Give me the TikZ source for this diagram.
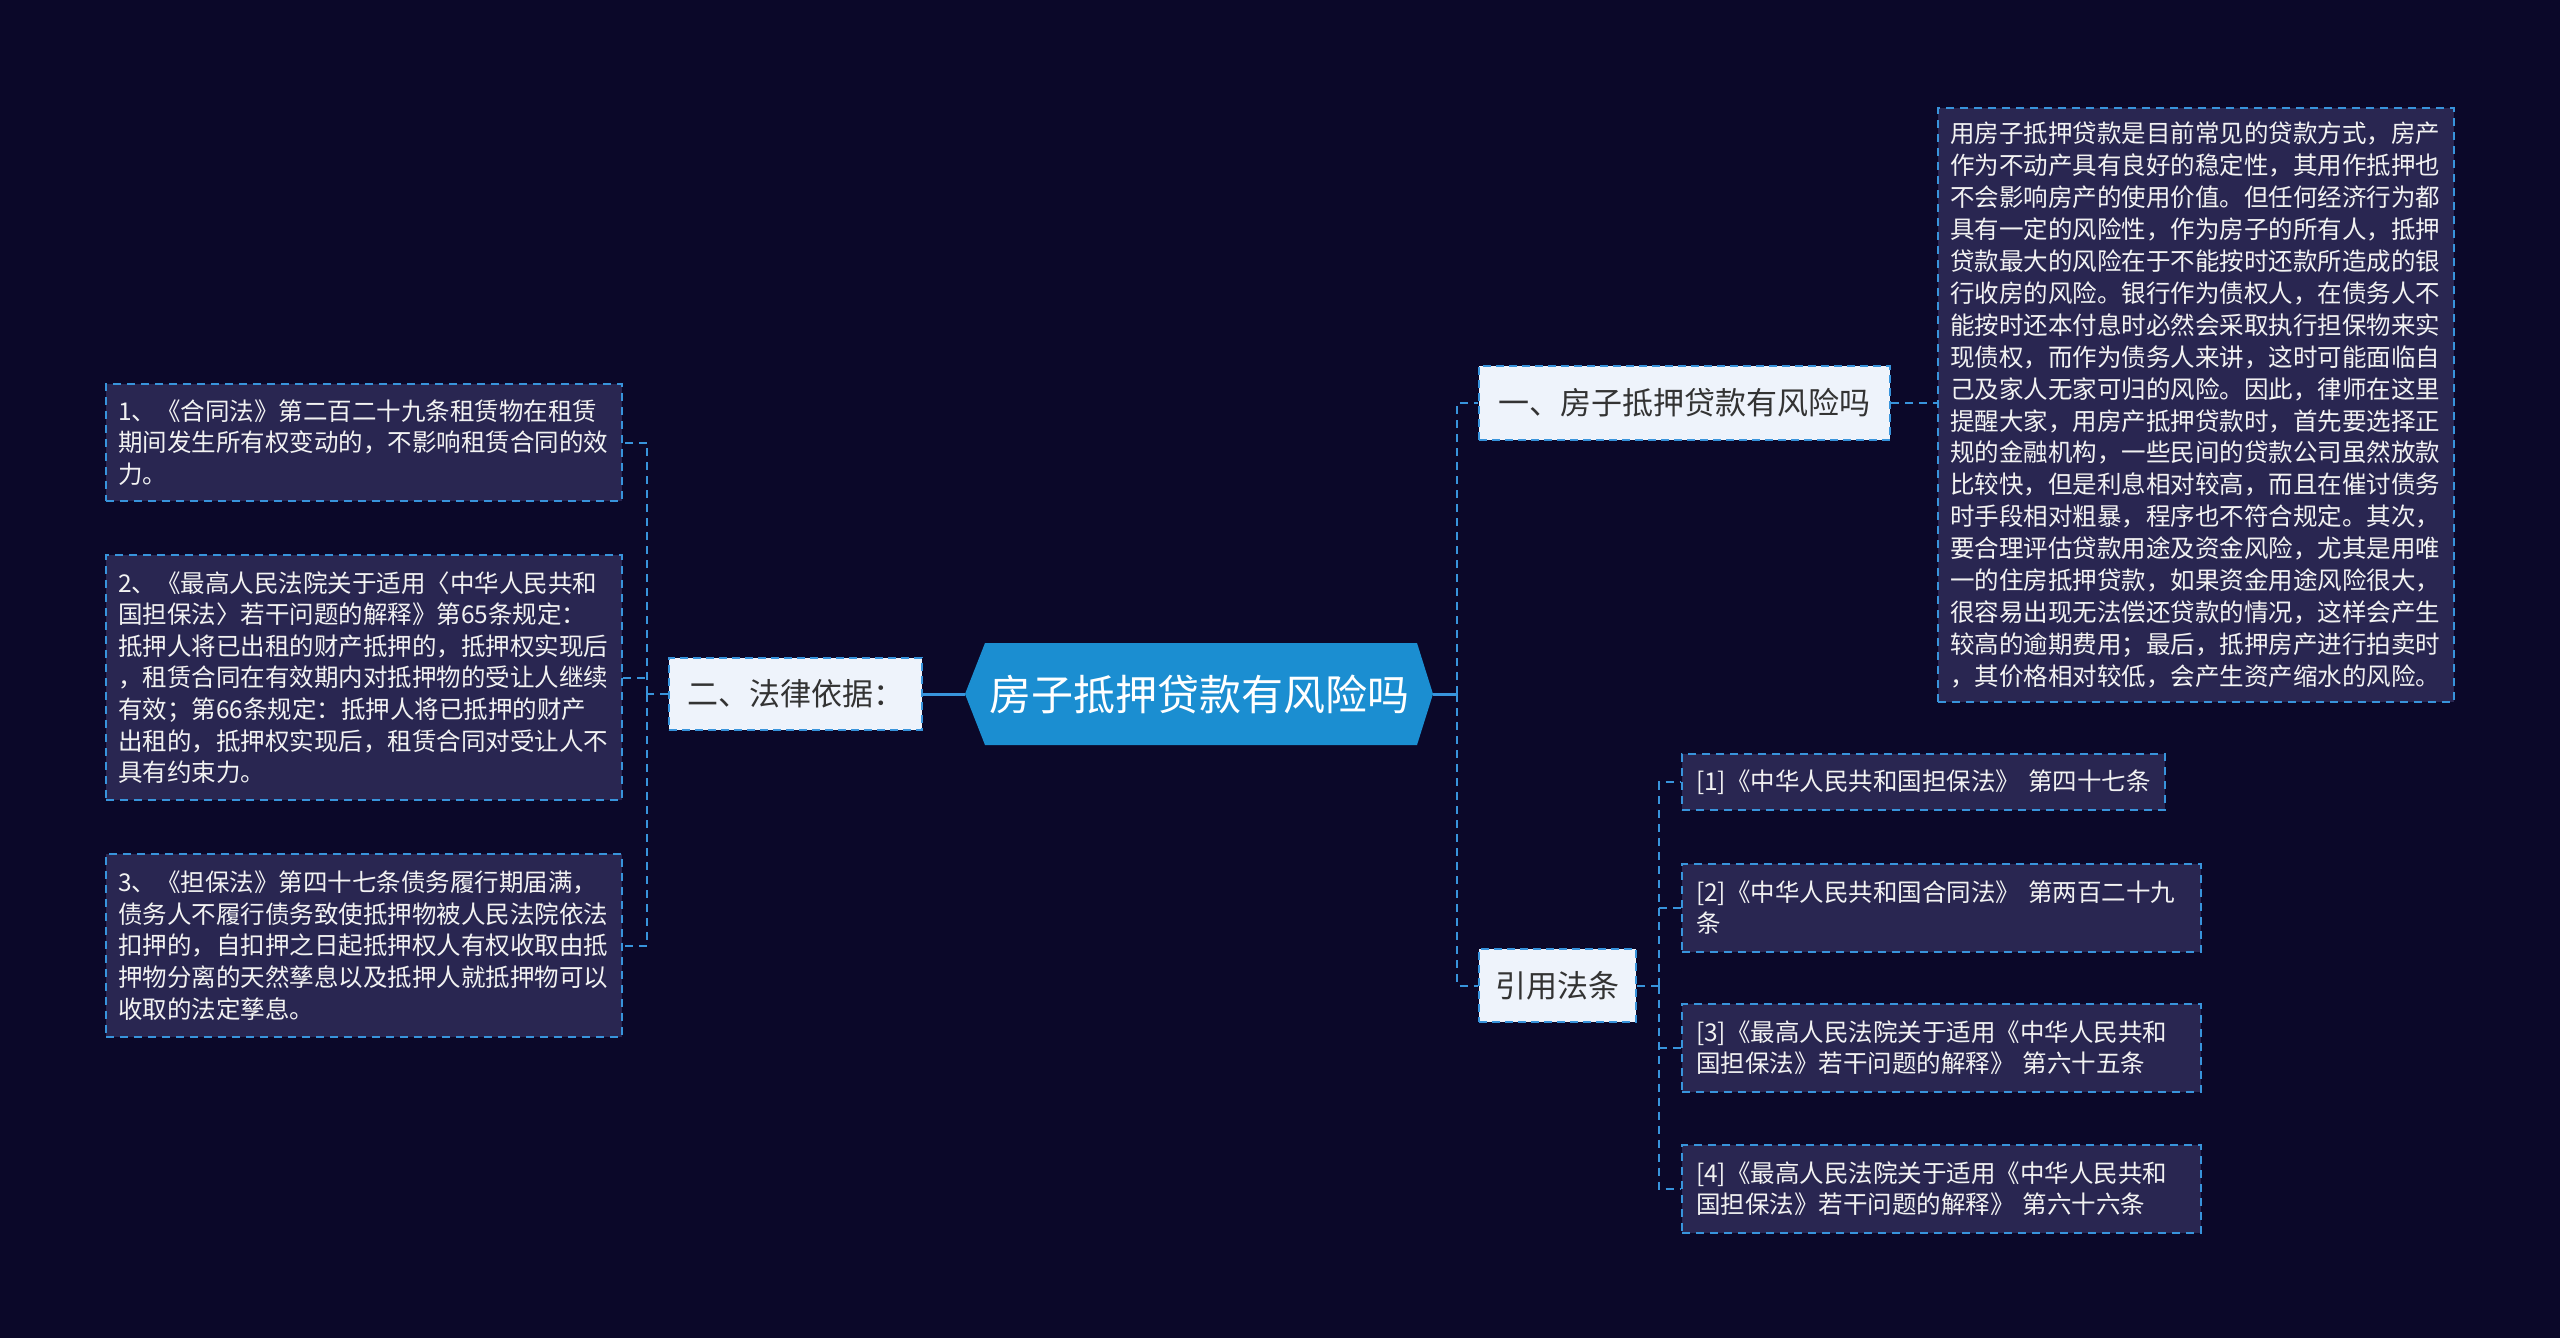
\documentclass[tikz,border=0pt]{standalone}
\usepackage{fontspec}
\newfontfamily\cjk{Noto Sans CJK SC}
\definecolor{bg}{HTML}{0B0829}
\definecolor{linec}{HTML}{3894DC}
\definecolor{rootfill}{HTML}{1B8ED1}
\definecolor{lightfill}{HTML}{EEF3FB}
\definecolor{darktext}{HTML}{333333}
\definecolor{leaffill}{HTML}{292651}
\definecolor{leaftext}{HTML}{F2F2F2}
\tikzset{
  conn/.style={draw=linec, line width=2pt, dash pattern=on 8pt off 6pt},
  mainconn/.style={draw=linec, line width=3pt},
  roottext/.style={text=white, font=\cjk\fontsize{42}{50}\selectfont, inner sep=0pt, minimum width=468pt, minimum height=102pt},
  lightbox/.style={draw=linec, line width=2pt, dash pattern=on 8pt off 5pt, fill=lightfill, text=darktext, font=\cjk\fontsize{31}{38}\selectfont, inner sep=0pt},
  leafbox/.style={draw=linec, line width=2pt, dash pattern=on 8pt off 6pt, fill=leaffill, text=leaftext, font=\cjk\fontsize{24.5}{31.6}\selectfont, align=left, inner xsep=12pt, inner ysep=0pt},
  refbox/.style={draw=linec, line width=2pt, dash pattern=on 8pt off 6pt, fill=leaffill, text=leaftext, font=\cjk\fontsize{24.5}{31}\selectfont, align=left, inner xsep=14pt, inner ysep=0pt},
}
\begin{document}
\begin{tikzpicture}[x=1pt,y=-1pt]
\fill[bg] (0,0) rectangle (2560,1338);
\useasboundingbox (0,0) rectangle (2560,1338);

% root hexagon
\fill[rootfill] (965,694) -- (985,643) -- (1417,643) -- (1433,694) -- (1417,745) -- (985,745) -- cycle;
\node[roottext] (root) at (1199,694) {房子抵押贷款有风险吗};

% level 1
\node[lightbox, minimum width=411pt, minimum height=74pt] (n1) at (1684.5,403) {一、房子抵押贷款有风险吗};
\node[lightbox, minimum width=253pt, minimum height=72pt] (law) at (795.5,694) {二、法律依据：};
\node[lightbox, minimum width=157pt, minimum height=73pt] (cite) at (1557.5,985.5) {引用法条};

% long text
\node[leafbox, font=\cjk\fontsize{24.5}{31.9}\selectfont, text width=492pt, minimum width=516pt, minimum height=594pt] (long) at (2196,405) {用房子抵押贷款是目前常见的贷款方式，房产\\
作为不动产具有良好的稳定性，其用作抵押也\\
不会影响房产的使用价值。但任何经济行为都\\
具有一定的风险性，作为房子的所有人，抵押\\
贷款最大的风险在于不能按时还款所造成的银\\
行收房的风险。银行作为债权人，在债务人不\\
能按时还本付息时必然会采取执行担保物来实\\
现债权，而作为债务人来讲，这时可能面临自\\
己及家人无家可归的风险。因此，律师在这里\\
提醒大家，用房产抵押贷款时，首先要选择正\\
规的金融机构，一些民间的贷款公司虽然放款\\
比较快，但是利息相对较高，而且在催讨债务\\
时手段相对粗暴，程序也不符合规定。其次，\\
要合理评估贷款用途及资金风险，尤其是用唯\\
一的住房抵押贷款，如果资金用途风险很大，\\
很容易出现无法偿还贷款的情况，这样会产生\\
较高的逾期费用；最后，抵押房产进行拍卖时\\
，其价格相对较低，会产生资产缩水的风险。};

% left leaves
\node[leafbox, text width=492pt, minimum width=516pt, minimum height=117pt] (L1) at (364,442.5) {1、《合同法》第二百二十九条租赁物在租赁\\
期间发生所有权变动的，不影响租赁合同的效\\
力。};
\node[leafbox, text width=492pt, minimum width=516pt, minimum height=245pt] (L2) at (364,677.5) {2、《最高人民法院关于适用〈中华人民共和\\
国担保法〉若干问题的解释》第65条规定：\\
抵押人将已出租的财产抵押的，抵押权实现后\\
，租赁合同在有效期内对抵押物的受让人继续\\
有效；第66条规定：抵押人将已抵押的财产\\
出租的，抵押权实现后，租赁合同对受让人不\\
具有约束力。};
\node[leafbox, text width=492pt, minimum width=516pt, minimum height=183pt] (L3) at (364,945.5) {3、《担保法》第四十七条债务履行期届满，\\
债务人不履行债务致使抵押物被人民法院依法\\
扣押的，自扣押之日起抵押权人有权收取由抵\\
押物分离的天然孳息以及抵押人就抵押物可以\\
收取的法定孳息。};

% reference leaves
\node[refbox, text width=455pt, minimum width=483pt, minimum height=56pt] (R1) at (1923.5,782) {[1]《中华人民共和国担保法》 第四十七条};
\node[refbox, text width=491pt, minimum width=519pt, minimum height=88pt] (R2) at (1941.5,908) {[2]《中华人民共和国合同法》 第两百二十九\\条};
\node[refbox, text width=491pt, minimum width=519pt, minimum height=88pt] (R3) at (1941.5,1048) {[3]《最高人民法院关于适用《中华人民共和\\国担保法》若干问题的解释》 第六十五条};
\node[refbox, text width=491pt, minimum width=519pt, minimum height=88pt] (R4) at (1941.5,1189) {[4]《最高人民法院关于适用《中华人民共和\\国担保法》若干问题的解释》 第六十六条};

% connectors
\coordinate (jl) at (647,694);
\coordinate (jr) at (1457,694);
\coordinate (jc) at (1659,985.5);
\draw[mainconn] (root.west) -- (law.east);
\draw[mainconn] (root.east) -- (jr);
\draw[conn] (jr) |- (n1.west);
\draw[conn] (jr) |- (cite.west);
\draw[conn] (n1.east) -- (n1.east -| long.west);
\draw[conn] (law.west) -- (jl);
\draw[conn] (jl) |- (L1.east);
\draw[conn] (jl) |- (L3.east);
\draw[conn] (L2.east) -- (L2.east -| jl);
\draw[conn] (cite.east) -- (jc);
\draw[conn] (jc) |- (R1.west);
\draw[conn] (jc) |- (R4.west);
\draw[conn] (R2.west -| jc) -- (R2.west);
\draw[conn] (R3.west -| jc) -- (R3.west);
\end{tikzpicture}
\end{document}
